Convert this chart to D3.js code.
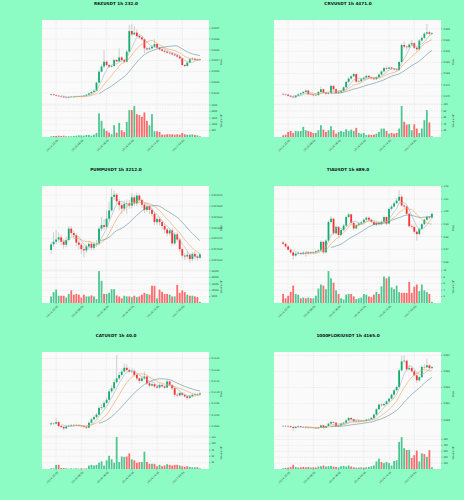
<!DOCTYPE html>
<html>
<head>
<meta charset="utf-8">
<script src="https://cdnjs.cloudflare.com/ajax/libs/d3/7.8.5/d3.min.js"></script>
<style>
html, body { margin: 0; padding: 0; background: #8cfcc4; }
svg { display: block; font-family: "DejaVu Sans", sans-serif; }
</style>
</head>
<body>
<div id="chart"></div>
<script>
// shared time axis (60 hourly candles, ticks every 10 candles)
var tickIdx = [2, 12, 22, 32, 42, 52];
var timeLabels = ["10-14 22:00", "10-15 08:00", "10-15 18:00", "10-16 04:00", "10-16 14:00", "10-17 00:00"];
var maPeriods = [5, 10, 20];

// REZUSDT (prices in 1e-6)
var rezOpen0 = 30080;
var rezClose = [30086,30080,30074,30068,30064,30058,30055,30061,30064,30064,30068,30068,30071,30074,30083,30095,30108,30120,30195,30297,30344,30390,30359,30344,30350,30406,30393,30430,30406,30390,30483,30675,30644,30660,30629,30616,30598,30514,30505,30514,30530,30554,30520,30505,30492,30483,30474,30468,30458,30449,30437,30421,30359,30350,30381,30412,30418,30406,30412,30406];
var rezHigh = [30092,30090,30084,30078,30072,30070,30064,30068,30070,30071,30074,30075,30078,30080,30090,30102,30115,30130,30205,30315,30365,30498,30400,30370,30362,30420,30418,30514,30440,30415,30500,30731,30740,30722,30690,30640,30625,30605,30530,30530,30545,30598,30560,30528,30512,30500,30490,30480,30474,30465,30455,30442,30426,30368,30390,30420,30430,30425,30422,30418];
var rezLow = [30074,30072,30066,30060,30055,30050,30046,30050,30056,30058,30060,30061,30063,30066,30070,30078,30090,30102,30115,30190,30290,30335,30350,30330,30335,30345,30385,30388,30398,30380,30385,30478,30630,30635,30620,30600,30585,30470,30490,30495,30505,30525,30510,30495,30482,30474,30465,30458,30450,30440,30428,30410,30345,30338,30342,30375,30405,30398,30400,30400];
var rezVol = [53,79,79,105,79,105,53,53,53,79,105,130,130,105,158,158,105,184,316,1841,1262,657,473,342,210,920,342,1105,526,395,1184,2104,2104,2420,1788,1710,1578,1920,1262,920,1788,447,447,395,184,184,210,210,210,184,210,184,316,210,184,184,210,158,130,53];
var rezPriceTicks = [0.0301,0.0302,0.0303,0.0304,0.0305,0.0306,0.0307];
var rezVolTicks = [500,1000,1500,2000,2500];

// CRVUSDT (prices in 1e-4)
var crvOpen0 = 5709;
var crvClose = [5707,5706,5701,5697,5694,5701,5707,5712,5718,5724,5709,5707,5703,5704,5718,5730,5715,5710,5713,5745,5730,5713,5716,5722,5739,5763,5778,5788,5798,5764,5766,5775,5782,5790,5784,5779,5775,5784,5796,5810,5825,5822,5827,5822,5819,5816,5852,5928,5921,5918,5930,5936,5916,5909,5948,5960,5979,5985,5978,5981];
var crvHigh = [5713,5711,5709,5704,5700,5705,5712,5716,5722,5730,5727,5714,5711,5709,5722,5742,5733,5719,5717,5750,5748,5734,5720,5726,5743,5768,5783,5793,5804,5801,5771,5779,5786,5795,5793,5788,5783,5788,5800,5815,5830,5832,5832,5831,5826,5823,5858,5935,5943,5926,5936,5950,5940,5922,5955,5966,5985,6022,5992,5986];
var crvLow = [5702,5701,5697,5692,5688,5690,5698,5703,5709,5714,5705,5703,5699,5699,5700,5714,5711,5705,5706,5710,5726,5709,5709,5712,5718,5735,5758,5773,5784,5760,5759,5762,5771,5778,5780,5775,5771,5772,5780,5792,5806,5817,5818,5817,5814,5810,5812,5848,5912,5905,5912,5925,5910,5898,5905,5942,5955,5972,5970,5974];
var crvVol = [5.2,7.2,15.5,18.5,12.4,18.5,17.5,18.5,30.9,20.6,18.5,15.5,12.4,12.4,20.6,36.1,22.7,15.5,20.6,33.0,20.6,10.3,15.5,18.5,15.5,23.7,18.5,22.7,18.5,27.8,12.4,10.3,12.4,6.2,7.2,6.2,7.2,10.3,15.5,25.8,25.8,18.5,10.3,12.4,10.3,12.4,25.8,94.8,46.4,38.1,39.1,20.6,39.1,25.8,12.4,25.8,51.5,82.4,44.3,2.1];
var crvPriceTicks = [0.570,0.575,0.580,0.585,0.590,0.595,0.600];
var crvVolTicks = [20,40,60,80,100];

// PUMPUSDT (prices in 1e-6)
var pumpOpen0 = 4549;
var pumpClose = [4562,4568,4573,4578,4568,4561,4572,4598,4588,4583,4566,4561,4551,4548,4557,4563,4554,4563,4564,4598,4606,4602,4621,4640,4671,4676,4661,4652,4644,4655,4656,4651,4670,4656,4674,4664,4653,4641,4649,4641,4632,4613,4620,4613,4604,4596,4587,4594,4564,4585,4573,4551,4536,4534,4538,4528,4540,4534,4531,4539];
var pumpHigh = [4568,4590,4595,4590,4584,4574,4580,4604,4603,4594,4588,4572,4565,4558,4562,4570,4568,4568,4572,4603,4625,4620,4640,4660,4690,4685,4680,4666,4658,4662,4665,4664,4679,4676,4680,4678,4668,4657,4656,4653,4646,4636,4626,4624,4617,4609,4600,4599,4598,4590,4590,4576,4555,4542,4546,4542,4545,4546,4538,4543];
var pumpLow = [4540,4556,4562,4566,4560,4552,4555,4568,4580,4575,4558,4550,4540,4532,4542,4550,4548,4549,4556,4560,4592,4596,4598,4615,4636,4664,4655,4640,4632,4638,4632,4644,4645,4650,4650,4658,4646,4634,4636,4632,4626,4606,4607,4605,4596,4588,4580,4582,4558,4560,4567,4544,4529,4526,4528,4520,4524,4528,4525,4528];
var pumpVol = [5112,8520,10508,5680,5680,5680,4260,7100,9940,6532,7100,6532,4260,6532,5112,5112,5964,5112,3124,24992,17324,7100,7100,7952,10792,10792,5964,5112,3692,5680,5112,5112,4544,5680,4544,5112,6532,7952,7100,6532,13632,13348,3692,10508,8804,7100,7100,6532,5112,5112,14200,7952,9940,8520,6532,5680,5680,5112,4544,852];
var pumpPriceTicks = [0.004525,0.004550,0.004575,0.004600,0.004625,0.004650,0.004675];
var pumpVolTicks = [5000,10000,15000,20000,25000];

// TIAUSDT (prices in 1e-4)
var tiaOpen0 = 9754;
var tiaClose = [9743,9722,9696,9675,9649,9665,9670,9662,9673,9665,9675,9670,9675,9683,9691,9759,9675,9769,9918,9944,9827,9879,9814,9853,9889,9957,9978,9910,9866,9892,9905,9915,9936,9952,9936,9918,9895,9910,9900,9918,9957,9905,10022,10041,10067,10088,10119,10049,10041,9983,9884,9879,9840,9821,9863,9900,9936,9957,9952,9983];
var tiaHigh = [9768,9750,9730,9705,9682,9675,9682,9678,9684,9680,9686,9684,9685,9692,9700,9770,9765,9780,9930,9965,9950,9890,9885,9865,9900,9970,9990,9985,9918,9902,9915,9926,9946,9962,9960,9945,9925,9920,9918,9930,9968,9962,10035,10055,10080,10110,10171,10135,10062,10050,9990,9900,9888,9850,9872,9910,9945,9966,9965,9992];
var tiaLow = [9735,9712,9688,9660,9618,9640,9656,9650,9655,9640,9658,9660,9662,9668,9675,9684,9660,9668,9760,9905,9815,9818,9800,9808,9845,9880,9948,9898,9852,9858,9884,9896,9906,9928,9926,9908,9885,9886,9890,9892,9910,9892,9898,10010,10032,10058,10080,10040,10028,9972,9872,9862,9825,9769,9812,9855,9892,9928,9940,9946];
var tiaVol = [2.80,1.46,2.24,3.47,5.38,2.80,2.58,1.46,1.68,1.46,1.68,1.46,1.46,2.24,4.48,5.71,5.38,4.26,9.86,7.62,6.27,3.92,2.80,1.46,1.12,2.58,2.80,2.80,2.02,1.23,1.46,1.68,2.80,2.58,2.02,1.79,2.58,3.47,2.80,5.15,8.18,7.62,8.18,4.82,4.26,5.38,3.36,3.14,3.14,3.14,6.50,3.14,5.04,5.71,3.70,5.71,3.92,3.36,2.80,0.34];
var tiaPriceTicks = [0.96,0.97,0.98,0.99,1.00,1.01,1.02];
var tiaVolTicks = [2,4,6,8,10];

// CATUSDT (prices in 1e-5)
var catOpen0 = 10958;
var catClose = [10962,10961,10968,10950,10946,10940,10949,10952,10955,10953,10955,10952,10950,10947,10943,10965,10980,10990,11001,11031,11034,11053,11067,11104,11118,11145,11162,11177,11192,11209,11199,11192,11194,11177,11162,11151,11162,11170,11140,11130,11136,11126,11121,11133,11127,11121,11148,11133,11118,11089,11086,11097,11089,11082,11075,11082,11089,11092,11090,11095];
var catHigh = [10968,10966,10987,10972,10955,10950,10954,10957,10960,10959,10960,10958,10956,10954,10951,10970,10986,10997,11008,11040,11048,11062,11078,11115,11130,11158,11265,11190,11205,11228,11225,11210,11205,11200,11182,11168,11170,11192,11175,11146,11143,11140,11131,11140,11138,11132,11156,11152,11137,11122,11096,11104,11102,11094,11087,11088,11095,11098,11097,11100];
var catLow = [10954,10955,10958,10945,10940,10931,10936,10945,10948,10948,10949,10947,10945,10942,10937,10940,10960,10975,10985,10996,11022,11028,11048,11060,11096,11110,11138,11155,11170,11185,11190,11184,11185,11168,11152,11140,11145,11155,11132,11122,11125,11118,11114,11116,11120,11114,11118,11126,11110,11080,11078,11080,11082,11075,11067,11070,11078,11085,11084,11087];
var catVol = [2.7,2.7,16.4,16.4,4.1,4.1,2.7,1.4,2.7,1.4,2.7,1.4,2.7,1.4,2.7,13.7,16.4,13.7,16.4,24.6,30.1,13.7,34.2,51.9,38.2,24.6,125.7,27.3,49.2,47.8,49.2,61.5,38.2,34.2,24.6,27.3,27.3,68.3,27.3,20.5,20.5,20.5,10.9,16.4,10.9,13.7,19.1,16.4,13.7,16.4,16.4,13.7,10.9,8.2,10.9,8.2,6.8,6.8,6.8,2.7];
var catPriceTicks = [0.1095,0.1100,0.1105,0.1110,0.1115,0.1120,0.1125];
var catVolTicks = [25,50,75,100,125];

// 1000FLOKIUSDT (prices in 1e-5)
var flokiOpen0 = 7960;
var flokiClose = [7962,7961,7960,7955,7949,7955,7959,7955,7953,7951,7949,7951,7949,7947,7951,7965,7949,7961,7976,7986,7982,7961,7965,7976,7982,7996,8011,8003,7990,7994,7990,7994,7992,8001,8003,8011,8032,8065,8094,8090,8098,8114,8131,8156,8183,8203,8307,8363,8367,8313,8321,8301,8276,8245,8265,8328,8326,8338,8321,8328];
var flokiHigh = [7967,7966,7966,7963,7958,7960,7964,7962,7959,7957,7955,7956,7955,7953,7956,7970,7968,7966,7982,7994,7992,7985,7970,7981,7987,8002,8018,8015,8007,8000,7998,7999,7998,8006,8008,8017,8038,8072,8102,8100,8106,8121,8138,8163,8192,8212,8320,8395,8400,8372,8340,8330,8310,8282,8272,8338,8345,8379,8344,8334];
var flokiLow = [7956,7955,7952,7948,7934,7944,7951,7950,7948,7946,7944,7945,7944,7942,7943,7948,7944,7946,7958,7972,7976,7956,7956,7961,7972,7978,7992,7998,7985,7986,7985,7986,7987,7988,7997,7999,8007,8028,8060,8082,8085,8093,8110,8126,8150,8178,8198,8300,8350,8305,8306,8292,8268,8230,8238,8260,8318,8320,8312,8316];
var flokiVol = [12,18,24,35,71,35,24,29,35,29,35,24,29,24,41,47,59,41,47,53,41,35,29,47,53,41,59,41,29,24,24,29,24,29,35,47,59,129,176,118,100,118,100,59,135,147,459,541,353,323,323,188,235,312,129,265,253,206,318,29];
var flokiPriceTicks = [0.080,0.081,0.082,0.083,0.084];
var flokiVolTicks = [100,200,300,400,500];

var panels = [
    {title: "REZUSDT 1h 232.0", unit: 1e-6, open0: rezOpen0, close: rezClose, high: rezHigh, low: rezLow, vol: rezVol,
     pTicks: rezPriceTicks, fmt: ".4f", pDomain: [0.029996, 0.030778], vTicks: rezVolTicks, vMax: 2580, vExp: "3"},
    {title: "CRVUSDT 1h 4471.0", unit: 1e-4, open0: crvOpen0, close: crvClose, high: crvHigh, low: crvLow, vol: crvVol,
     pTicks: crvPriceTicks, fmt: ".3f", pDomain: [0.5664, 0.6040], vTicks: crvVolTicks, vMax: 101, vExp: "3"},
    {title: "PUMPUSDT 1h 3212.0", unit: 1e-6, open0: pumpOpen0, close: pumpClose, high: pumpHigh, low: pumpLow, vol: pumpVol,
     pTicks: pumpPriceTicks, fmt: ".6f", pDomain: [0.004503, 0.004696], vTicks: pumpVolTicks, vMax: 25844, vExp: "3"},
    {title: "TIAUSDT 1h 689.0", unit: 1e-4, open0: tiaOpen0, close: tiaClose, high: tiaHigh, low: tiaLow, vol: tiaVol,
     pTicks: tiaPriceTicks, fmt: ".2f", pDomain: [0.9534, 1.0205], vTicks: tiaVolTicks, vMax: 10.2, vExp: "4"},
    {title: "CATUSDT 1h 40.0", unit: 1e-5, open0: catOpen0, close: catClose, high: catHigh, low: catLow, vol: catVol,
     pTicks: catPriceTicks, fmt: ".4f", pDomain: [0.10906, 0.11279], vTicks: catVolTicks, vMax: 130, vExp: "6"},
    {title: "1000FLOKIUSDT 1h 4165.0", unit: 1e-5, open0: flokiOpen0, close: flokiClose, high: flokiHigh, low: flokiLow, vol: flokiVol,
     pTicks: flokiPriceTicks, fmt: ".3f", pDomain: [0.07899, 0.08421], vTicks: flokiVolTicks, vMax: 559, vExp: "3"}
];

var width = 464, height = 500;
var colW = 232, rowH = 166;
var L = 42, R = 209, T = 20, M = 104, B = 137;
var bw = 1.8;
var upC = "#12ad6e", downC = "#fe3032", upV = "#4dc790", downV = "#fd6b6c";
var maColors = ["#9fb2c0", "#f2a154", "#5f8f99"];

var svg = d3.select("#chart").append("svg")
    .attr("width", width)
    .attr("height", height);

panels.forEach(function(p, k) {
    var g = svg.append("g")
        .attr("transform", "translate(" + (k % 2) * colW + "," + Math.floor(k / 2) * rowH + ")");

    var n = p.close.length;
    var rows = p.close.map(function(c, i) {
        var o = i ? p.close[i - 1] : p.open0;
        return {i: i, o: o * p.unit, c: c * p.unit, h: p.high[i] * p.unit, l: p.low[i] * p.unit, v: p.vol[i]};
    });

    var x = d3.scaleLinear().domain([-3.6, n - 1 + 3.6]).range([L, R]);
    var y = d3.scaleLinear().domain(p.pDomain).range([M, T]);
    var yv = d3.scaleLinear().domain([0, p.vMax]).range([B, M]);

    // panel backgrounds
    g.append("rect").attr("x", L).attr("y", T).attr("width", R - L).attr("height", M - T)
        .attr("fill", "#fafafa");
    g.append("rect").attr("x", L).attr("y", M).attr("width", R - L).attr("height", B - M)
        .attr("fill", "#fafafa");

    // grid
    g.append("g").selectAll("line").data(p.pTicks).enter().append("line")
        .attr("x1", L).attr("x2", R)
        .attr("y1", function(d) { return y(d); }).attr("y2", function(d) { return y(d); })
        .attr("stroke", "#d8d8d8").attr("stroke-width", 0.4).attr("stroke-dasharray", "1.5,1");
    g.append("g").selectAll("line").data(p.vTicks).enter().append("line")
        .attr("x1", L).attr("x2", R)
        .attr("y1", function(d) { return yv(d); }).attr("y2", function(d) { return yv(d); })
        .attr("stroke", "#d8d8d8").attr("stroke-width", 0.4).attr("stroke-dasharray", "1.5,1");
    g.append("g").selectAll("line").data(tickIdx).enter().append("line")
        .attr("x1", function(d) { return x(d); }).attr("x2", function(d) { return x(d); })
        .attr("y1", T).attr("y2", B)
        .attr("stroke", "#d8d8d8").attr("stroke-width", 0.4).attr("stroke-dasharray", "1.5,1");

    g.append("line").attr("x1", L).attr("x2", R).attr("y1", M).attr("y2", M)
        .attr("stroke", "#e2e2e2").attr("stroke-width", 0.4);

    // candles
    var cg = g.append("g");
    cg.selectAll("line.wick").data(rows).enter().append("line")
        .attr("class", "wick")
        .attr("x1", function(d) { return x(d.i); }).attr("x2", function(d) { return x(d.i); })
        .attr("y1", function(d) { return y(d.h); }).attr("y2", function(d) { return y(d.l); })
        .attr("stroke", "#9a9a9a").attr("stroke-width", 0.45);
    cg.selectAll("rect").data(rows).enter().append("rect")
        .attr("x", function(d) { return x(d.i) - bw / 2; })
        .attr("width", bw)
        .attr("y", function(d) { return y(Math.max(d.o, d.c)); })
        .attr("height", function(d) { return Math.max(0.4, Math.abs(y(d.o) - y(d.c))); })
        .attr("fill", function(d) { return d.c >= d.o ? upC : downC; });

    // moving averages
    maPeriods.forEach(function(per, j) {
        var pts = [];
        for (var i = per - 1; i < n; i++) {
            pts.push([i, d3.mean(rows.slice(i - per + 1, i + 1), function(d) { return d.c; })]);
        }
        g.append("path").datum(pts)
            .attr("d", d3.line().x(function(d) { return x(d[0]); }).y(function(d) { return y(d[1]); }))
            .attr("fill", "none").attr("stroke", maColors[j]).attr("stroke-width", 0.6);
    });

    // volume
    g.append("g").selectAll("rect").data(rows).enter().append("rect")
        .attr("x", function(d) { return x(d.i) - bw / 2; })
        .attr("width", bw)
        .attr("y", function(d) { return yv(d.v); })
        .attr("height", function(d) { return B - yv(d.v); })
        .attr("fill", function(d) { return d.c >= d.o ? upV : downV; });

    // right axes
    var fmt = d3.format(p.fmt);
    var pa = g.append("g").attr("font-size", 2.3).attr("fill", "#333");
    p.pTicks.forEach(function(t) {
        pa.append("line").attr("x1", R).attr("x2", R + 1.4).attr("y1", y(t)).attr("y2", y(t))
            .attr("stroke", "#555").attr("stroke-width", 0.35);
        pa.append("text").attr("x", R + 2.4).attr("y", y(t)).attr("dy", "0.35em").text(fmt(t));
    });
    p.vTicks.forEach(function(t) {
        pa.append("line").attr("x1", R).attr("x2", R + 1.4).attr("y1", yv(t)).attr("y2", yv(t))
            .attr("stroke", "#555").attr("stroke-width", 0.35);
        pa.append("text").attr("x", R + 2.4).attr("y", yv(t)).attr("dy", "0.35em").text(t);
    });

    g.append("text")
        .attr("transform", "translate(" + (R + 13) + "," + ((T + M) / 2) + ") rotate(-90)")
        .attr("text-anchor", "middle").attr("font-size", 2.4).attr("fill", "#333")
        .text("Price");
    var vl = g.append("text")
        .attr("transform", "translate(" + (R + 13) + "," + ((M + B) / 2) + ") rotate(-90)")
        .attr("text-anchor", "middle").attr("font-size", 2.4).attr("fill", "#333");
    vl.append("tspan").text("Volume  10");
    vl.append("tspan").attr("dy", "-0.6em").attr("font-size", 1.7).text(p.vExp);

    // x axis labels
    var xa = g.append("g").attr("font-size", 2.6).attr("fill", "#333");
    tickIdx.forEach(function(t, j) {
        xa.append("line").attr("x1", x(t)).attr("x2", x(t)).attr("y1", B).attr("y2", B + 1.2)
            .attr("stroke", "#555").attr("stroke-width", 0.35);
        xa.append("text")
            .attr("transform", "translate(" + (x(t) + 1) + "," + (B + 2.2) + ") rotate(-45)")
            .attr("text-anchor", "end").attr("dy", "0.7em")
            .text(timeLabels[j]);
    });

    // title
    g.append("text")
        .attr("x", colW / 2).attr("y", 5)
        .attr("text-anchor", "middle")
        .attr("font-size", 4.2).attr("font-weight", "bold").attr("fill", "#111")
        .text(p.title);
});
</script>
</body>
</html>
